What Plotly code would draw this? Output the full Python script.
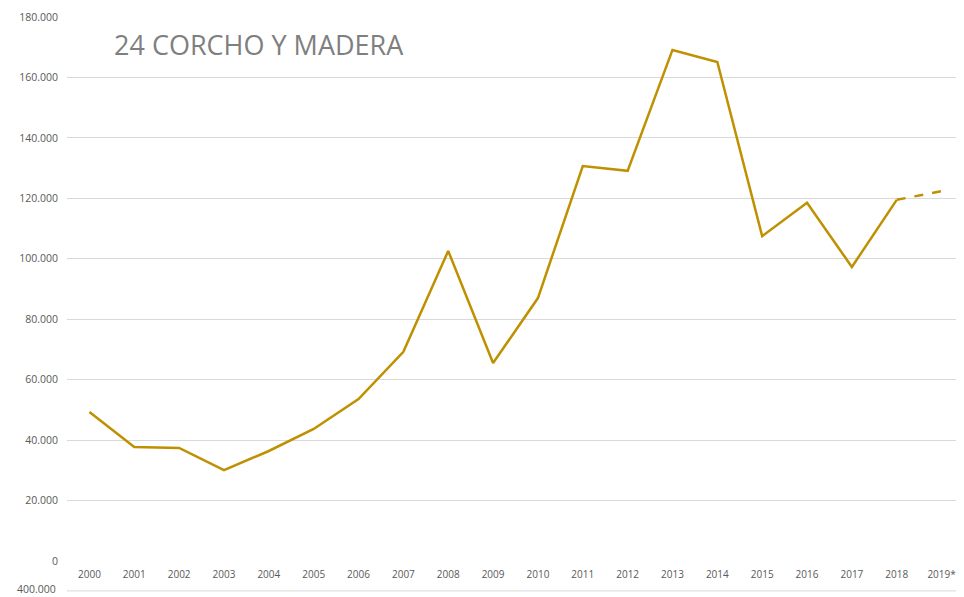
import plotly.graph_objects as go

years = ['2000', '2001', '2002', '2003', '2004', '2005', '2006', '2007', '2008', '2009',
         '2010', '2011', '2012', '2013', '2014', '2015', '2016', '2017', '2018', '2019*']
values = [49300, 37700, 37400, 30100, 36400, 43700, 53600, 69200, 102600, 65500,
          87000, 130700, 129100, 169100, 165100, 107500, 118500, 97300, 119500, 122400]

gold = '#BF9000'

fig = go.Figure()
# solid line up to 2018
fig.add_trace(go.Scatter(
    x=years[:-1], y=values[:-1], mode='lines',
    line=dict(color=gold, width=2.5), showlegend=False
))
# dashed estimate for 2019*
fig.add_trace(go.Scatter(
    x=years[-2:], y=values[-2:], mode='lines',
    line=dict(color=gold, width=2.5, dash='dash'), showlegend=False
))

# page body has an 8px margin, so the figure is a bit smaller than the window
fig.update_layout(
    width=956, height=589,
    margin=dict(l=59, r=0, t=9, b=36),
    plot_bgcolor='white', paper_bgcolor='white',
    separators=',.',
    font=dict(family='Open Sans', color='#595959', size=10),
    xaxis=dict(type='category', range=[-0.5, 19.5], showgrid=False,
               showline=False, ticks='', tickfont=dict(size=10),
               ticklabelstandoff=6, automargin=False),
    yaxis=dict(range=[0, 180000], dtick=20000, tickformat=',d',
               gridcolor='#d9d9d9', gridwidth=1, zeroline=False,
               showline=False, ticks='', ticklabelstandoff=8,
               tickfont=dict(size=10.5), automargin=False),
    annotations=[
        dict(text='24 CORCHO Y MADERA', xref='paper', yref='paper',
             x=0.05, y=0.95, xanchor='left', yanchor='middle', showarrow=False,
             font=dict(family='Open Sans', size=27, color='#7f7f7f')),
        dict(text='400.000', xref='paper', yref='paper',
             x=-0.01, y=-0.051, xanchor='right', yanchor='middle', showarrow=False,
             font=dict(size=10.5, color='#595959')),
    ],
    shapes=[dict(type='line', xref='paper', yref='paper', x0=0, x1=1,
                 y0=-0.055, y1=-0.055, line=dict(color='#d9d9d9', width=1))],
)

fig.write_html('out.html')
